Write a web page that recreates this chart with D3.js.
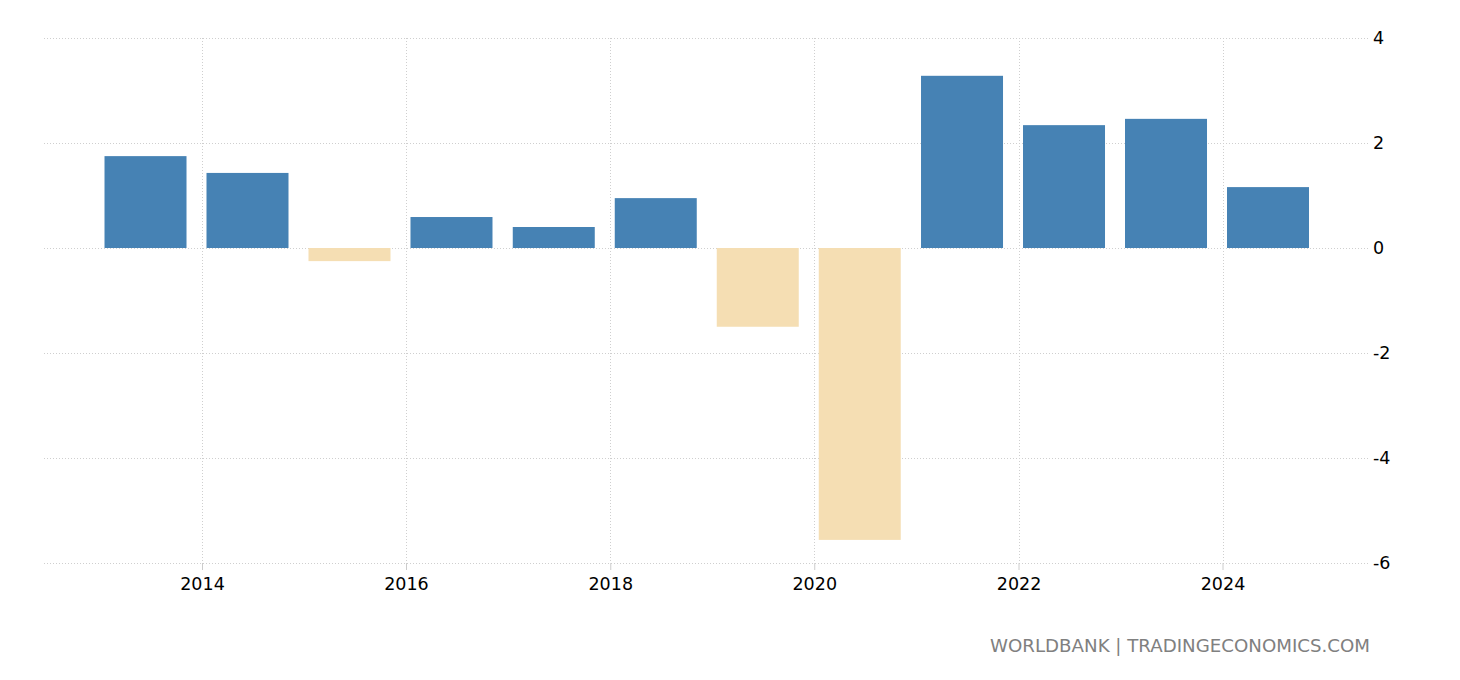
<!DOCTYPE html>
<html>
<head>
<meta charset="utf-8">
<script src="https://cdn.jsdelivr.net/npm/d3@7"></script>
<style>
  body { margin: 0; background: #fff; }
  svg { display: block; }
  svg text { font-family: "DejaVu Sans", Verdana, sans-serif; }
</style>
</head>
<body>
<div id="chart"></div>
<script>
const years = [2013, 2014, 2015, 2016, 2017, 2018, 2019, 2020, 2021, 2022, 2023, 2024];
const values = [1.75, 1.43, -0.25, 0.59, 0.40, 0.95, -1.50, -5.56, 3.28, 2.34, 2.46, 1.16];
const xTickYears = [2014, 2016, 2018, 2020, 2022, 2024];
const yTicks = [4, 2, 0, -2, -4, -6];
const source = 'WORLDBANK | TRADINGECONOMICS.COM';

const width = 1460, height = 680;
const plotLeft = 44, plotRight = 1368, plotTop = 38, plotBottom = 563;

const svg = d3.select('#chart')
    .append('svg')
    .attr('width', width)
    .attr('height', height);

const x = d3.scaleTime()
    .domain([new Date(2014, 0, 1), new Date(2024, 0, 1)])
    .range([202, 1222.5]);

const y = d3.scaleLinear()
    .domain([-6, 4])
    .range([plotBottom, plotTop]);

// horizontal grid
svg.append('g')
    .selectAll('line')
    .data(yTicks)
    .join('line')
    .attr('x1', plotLeft)
    .attr('x2', plotRight)
    .attr('y1', d => Math.round(y(d)) + 0.5)
    .attr('y2', d => Math.round(y(d)) + 0.5)
    .attr('stroke', '#cfcfcf')
    .attr('stroke-dasharray', '1,2');

// vertical grid
svg.append('g')
    .selectAll('line')
    .data(xTickYears)
    .join('line')
    .attr('x1', d => Math.round(x(new Date(d, 0, 1))) + 0.5)
    .attr('x2', d => Math.round(x(new Date(d, 0, 1))) + 0.5)
    .attr('y1', plotTop)
    .attr('y2', plotBottom)
    .attr('stroke', '#cfcfcf')
    .attr('stroke-dasharray', '1,2');

// bars
const barW = 82;
svg.append('g')
    .selectAll('rect')
    .data(years.map((yr, i) => ({ yr, v: values[i] })))
    .join('rect')
    .attr('x', d => x(new Date(d.yr, 0, 1)) + 4.5)
    .attr('width', barW)
    .attr('y', d => y(Math.max(0, d.v)))
    .attr('height', d => Math.abs(y(d.v) - y(0)))
    .attr('fill', d => d.v >= 0 ? '#4682b4' : '#f5deb3');

// x axis
const xAxis = svg.append('g')
    .attr('transform', `translate(0, ${plotBottom})`)
    .call(d3.axisBottom(x)
        .tickValues(xTickYears.map(d => new Date(d, 0, 1)))
        .tickFormat(d3.timeFormat('%Y'))
        .tickSize(7)
        .tickPadding(8));
xAxis.attr('font-family', null).attr('font-size', null);
xAxis.select('.domain').remove();
xAxis.selectAll('.tick line').attr('stroke', '#cccccc');
xAxis.selectAll('.tick text')
    .attr('fill', '#000')
    .style('font-size', '17.5px');

// y axis
const yAxis = svg.append('g')
    .attr('transform', `translate(${plotRight}, 0)`)
    .call(d3.axisRight(y)
        .tickValues(yTicks)
        .tickFormat(d => String(d))
        .tickSize(0)
        .tickPadding(5));
yAxis.attr('font-family', null).attr('font-size', null);
yAxis.select('.domain').remove();
yAxis.selectAll('.tick text')
    .attr('fill', '#000')
    .style('font-size', '17.5px');

// source
svg.append('text')
    .attr('x', 1370)
    .attr('y', 652)
    .attr('text-anchor', 'end')
    .attr('fill', '#808080')
    .style('font-size', '18.2px')
    .text(source);
</script>
</body>
</html>
